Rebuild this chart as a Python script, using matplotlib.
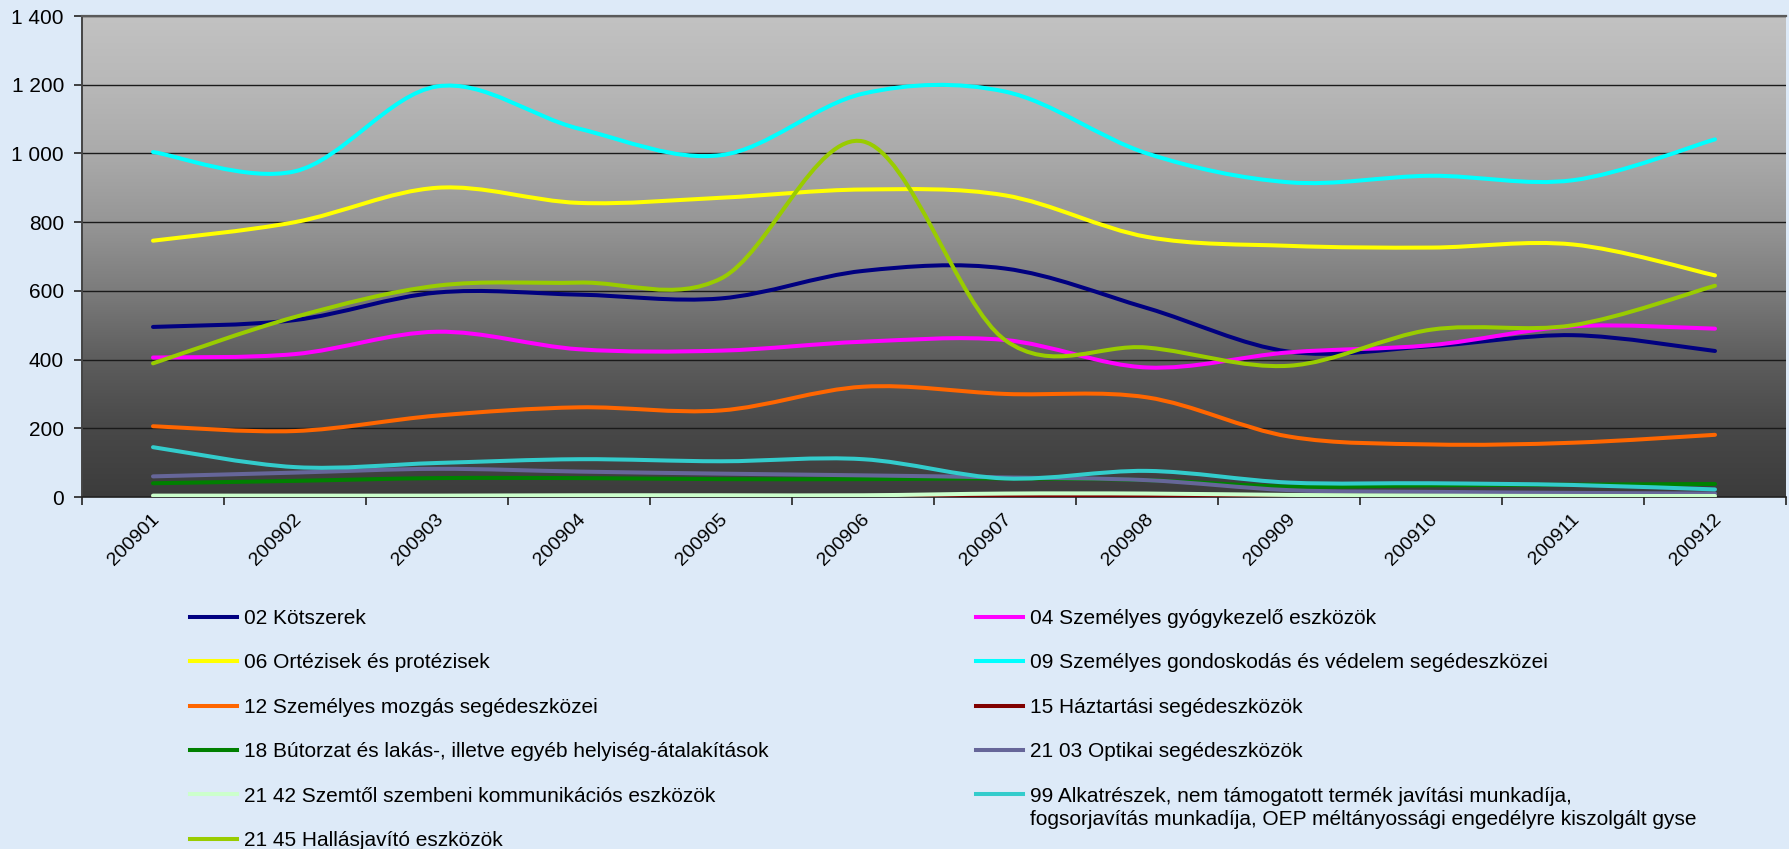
import numpy as np
import matplotlib
matplotlib.use("Agg")
import matplotlib.pyplot as plt
import matplotlib.transforms as mtransforms
from matplotlib.path import Path
from matplotlib.patches import PathPatch
from matplotlib.lines import Line2D
from matplotlib.colors import LinearSegmentedColormap

plt.rcParams['font.family'] = ['Liberation Sans', 'DejaVu Sans']

# data
months = ['200901', '200902', '200903', '200904', '200905', '200906',
          '200907', '200908', '200909', '200910', '200911', '200912']
yticks = [0, 200, 400, 600, 800, 1000, 1200, 1400]
ytick_labels = ['0', '200', '400', '600', '800', '1 000', '1 200', '1 400']

kotszerek = [495, 515, 595, 589, 578, 658, 665, 550, 423, 439, 471, 425]
gyogykezelo = [406, 416, 481, 430, 426, 452, 457, 377, 421, 442, 497, 490]
ortezisek = [746, 800, 900, 856, 871, 895, 878, 757, 731, 726, 735, 645]
gondoskodas = [1004, 948, 1195, 1072, 995, 1174, 1180, 1000, 916, 935, 922, 1041]
mozgas = [206, 192, 237, 261, 252, 321, 300, 290, 176, 153, 158, 181]
haztartasi = [0, 0, 0, 0, 0, 0, 3, 3, 1, 0, 0, 0]
butorzat = [40, 47, 55, 55, 52, 52, 54, 49, 30, 34, 36, 38]
optikai = [60, 71, 82, 74, 68, 63, 57, 49, 20, 15, 12, 10]
kommunikacios = [4, 4, 4, 5, 5, 5, 10, 10, 6, 4, 3, 3]
alkatreszek = [145, 87, 99, 110, 104, 110, 54, 76, 42, 40, 35, 22]
hallasjavito = [389, 524, 615, 624, 636, 1035, 457, 435, 382, 487, 500, 615]

names = ['02 Kötszerek',
         '04 Személyes gyógykezelő eszközök',
         '06 Ortézisek és protézisek',
         '09 Személyes gondoskodás és védelem segédeszközei',
         '12 Személyes mozgás segédeszközei',
         '15 Háztartási segédeszközök',
         '18 Bútorzat és lakás-, illetve egyéb helyiség-átalakítások',
         '21 03 Optikai segédeszközök',
         '21 42 Szemtől szembeni kommunikációs eszközök',
         '99 Alkatrészek, nem támogatott termék javítási munkadíja,',
         '21 45 Hallásjavító eszközök']
name_99_line2 = 'fogsorjavítás munkadíja, OEP méltányossági engedélyre kiszolgált gyse'
series = [kotszerek, gyogykezelo, ortezisek, gondoskodas, mozgas, haztartasi,
          butorzat, optikai, kommunikacios, alkatreszek, hallasjavito]
colors = ['#000080', '#FF00FF', '#FFFF00', '#00FFFF', '#FF6600', '#800000',
          '#008000', '#666699', '#CCFFCC', '#33CCCC', '#99CC00']


def smooth_path(xs, ys):
    # bezier through the points, like a spreadsheet "smoothed line"
    pts = np.column_stack([xs, ys]).astype(float)
    n = len(pts)
    verts = [pts[0]]
    codes = [Path.MOVETO]
    for i in range(n - 1):
        p0 = pts[max(i - 1, 0)]
        p1 = pts[i]
        p2 = pts[i + 1]
        p3 = pts[min(i + 2, n - 1)]
        verts += [p1 + (p2 - p0) / 6, p2 - (p3 - p1) / 6, p2]
        codes += [Path.CURVE4] * 3
    return Path(verts, codes)


W, H = 1790, 849
bg = '#DDEAF8'
fig = plt.figure(figsize=(W / 100, H / 100), dpi=100, facecolor=bg)
ax = fig.add_axes([82 / W, 1 - 497 / H, 1704 / W, 481 / H])

# grey gradient of the plot area
cmap = LinearSegmentedColormap.from_list('plotbg', [
    (0.0, '#3C3C3C'), (0.14, '#484848'), (0.29, '#5E5E5E'), (0.43, '#7C7C7C'),
    (0.57, '#969696'), (0.71, '#AAAAAA'), (0.86, '#B8B8B8'), (1.0, '#C2C2C2')])
grad = np.linspace(0, 1, 256).reshape(-1, 1)
ax.imshow(grad, extent=[0, 1, 0, 1], transform=ax.transAxes, aspect='auto',
          cmap=cmap, origin='lower', zorder=0)

x = np.arange(len(months))
lw = 2.9
for vals, col in zip(series, colors):
    patch = PathPatch(smooth_path(x, vals), fill=False, edgecolor=col, lw=lw,
                      capstyle='round', joinstyle='round', zorder=3)
    ax.add_patch(patch)

ax.set_xlim(-0.5, len(months) - 0.5)
ax.set_ylim(0, 1400)
ax.set_yticks(yticks)
ax.set_yticklabels(ytick_labels, fontsize=15)
ax.set_xticks(x)
ax.set_xticklabels(months, fontsize=14, rotation=45, ha='right',
                   va='center', rotation_mode='anchor')
ax.set_xticks(np.arange(-0.5, len(months), 1), minor=True)
ax.tick_params(axis='x', which='major', length=0, pad=14)
ax.tick_params(axis='x', which='minor', length=6, width=1.2, color='#222222')
ax.tick_params(axis='y', length=6, width=1.2, color='#222222', pad=7)
offset = mtransforms.ScaledTranslation(4 / 100, 0, fig.dpi_scale_trans)
for lab in ax.get_xticklabels():
    lab.set_transform(lab.get_transform() + offset)

ax.grid(axis='y', color='#1A1A1A', lw=1.0)
ax.spines['right'].set_visible(False)
ax.spines['top'].set_color('#5A5A5A')
ax.spines['top'].set_linewidth(1.6)
ax.spines['left'].set_color('#444444')
ax.spines['left'].set_linewidth(1.4)
ax.spines['bottom'].set_color('#222222')
ax.spines['bottom'].set_linewidth(1.2)

handles = [Line2D([], [], color=c, lw=lw) for c in colors]
left_idx = [0, 2, 4, 6, 8, 10]
right_idx = [1, 3, 5, 7, 9]
legend_kw = dict(loc='upper left', frameon=False, fontsize=15, borderpad=0,
                 borderaxespad=0, handlelength=2.25, handletextpad=0.33,
                 labelspacing=1.22)
leg1 = fig.legend([handles[i] for i in left_idx], [names[i] for i in left_idx],
                  bbox_to_anchor=(190 / W, 1 - 609 / H), **legend_kw)
leg2 = fig.legend([handles[i] for i in right_idx], [names[i] for i in right_idx],
                  bbox_to_anchor=(976 / W, 1 - 609 / H), **legend_kw)

# second line of the "99" entry sits under its first line
fig.canvas.draw()
bb = leg2.get_texts()[-1].get_window_extent()
fig.text(bb.x0 / W, (bb.y0 - 23) / H, name_99_line2, fontsize=15,
         ha='left', va='bottom')

fig.savefig('out.png', dpi=100, facecolor=bg)
